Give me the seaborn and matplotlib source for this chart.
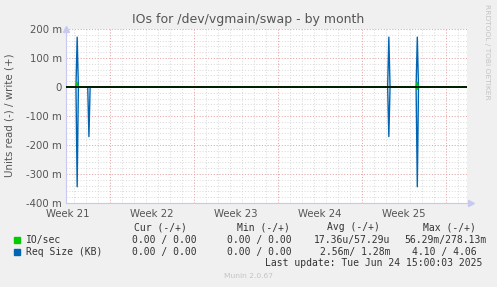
import matplotlib
matplotlib.use("Agg")
import matplotlib.pyplot as plt
import seaborn as sns
import pandas as pd
import numpy as np

# ---------------- data (x in days since Monday of Week 21) ----------------
week_labels = ["Week 21", "Week 22", "Week 23", "Week 24", "Week 25"]
week_starts = [0, 7, 14, 21, 28, 35]
x_range = [3.35, 36.75]

# Req Size (KB) samples
req_t     = [3.35, 4.18, 4.28, 4.38, 5.16, 5.26, 5.36, 30.14, 30.24, 30.34, 32.51, 32.61, 32.71, 36.75]
req_write = [0, 0, 0.172, 0, 0, 0, 0, 0, 0.172, 0, 0, 0.172, 0, 0]
req_read  = [0, 0, 0.344, 0, 0, 0.171, 0, 0, 0.171, 0, 0, 0.344, 0, 0]

# IO/sec samples
io_t     = [3.35, 4.18, 4.28, 4.38, 32.51, 32.61, 32.71, 36.75]
io_write = [0, 0, 0.016, 0, 0, 0.016, 0, 0]
io_read  = [0, 0, 0, 0, 0, 0.008, 0, 0]

y_ticks = [-0.4, -0.3, -0.2, -0.1, 0.0, 0.1, 0.2]
y_tick_labels = ["-400 m", "-300 m", "-200 m", "-100 m", "0", "100 m", "200 m"]

title = "IOs for /dev/vgmain/swap - by month"
ylabel = "Units read (-) / write (+)"
series_names = ["IO/sec", "Req Size (KB)"]
series_colors = ["#00CC00", "#0066B3"]
col_headers = ["Cur (-/+)", "Min (-/+)", "Avg (-/+)", "Max (-/+)"]
rows = [
    ["0.00 / 0.00", "0.00 / 0.00", "17.36u/57.29u", "56.29m/278.13m"],
    ["0.00 / 0.00", "0.00 / 0.00", "2.56m/ 1.28m", "4.10 / 4.06"],
]
last_update = "Last update: Tue Jun 24 15:00:03 2025"
version = "Munin 2.0.67"
side_text = "RRDTOOL / TOBI OETIKER"

# ---------------- figure ----------------
W, H = 497, 287
fig = plt.figure(figsize=(W / 100, H / 100), dpi=100, facecolor="#F0F0F0")
ax = fig.add_axes([66 / W, 1 - 203 / H, (467 - 66) / W, (203 - 29) / H])
ax.set_facecolor("white")

ax.set_xlim(*x_range)
ax.set_ylim(-0.4, 0.2)

# grids
minor_y = np.round(np.arange(-0.4, 0.2001, 0.02), 3)
ax.set_yticks(y_ticks)
ax.set_yticklabels(y_tick_labels)
days = np.arange(4, 37)
mid = [s + 3.5 for s in week_starts[:-1]]
ax.set_xticks(mid)
ax.set_xticklabels(week_labels)

ax.grid(False)
dot = (0, (1.2, 2.2))
for d in days:
    ax.axvline(d, color="#d4d4d4", lw=0.6, ls=dot, zorder=0.5)
for yv in minor_y:
    ax.axhline(yv, color="#d4d4d4", lw=0.6, ls=dot, zorder=0.5)
for s in week_starts:
    if x_range[0] < s < x_range[1]:
        ax.axvline(s, color="#eea0a0", lw=0.6, ls=dot, zorder=0.6)
for yv in y_ticks:
    ax.axhline(yv, color="#eea0a0", lw=0.6, ls=dot, zorder=0.6)

# data lines
df_req = pd.DataFrame({"t": req_t, "w": req_write, "r": [-v for v in req_read]})
df_io = pd.DataFrame({"t": io_t, "w": io_write, "r": [-v for v in io_read]})
sns.lineplot(data=df_req, x="t", y="w", ax=ax, color=series_colors[1], lw=1.0, zorder=3)
sns.lineplot(data=df_req, x="t", y="r", ax=ax, color=series_colors[1], lw=1.0, zorder=3)
sns.lineplot(data=df_io, x="t", y="w", ax=ax, color=series_colors[0], lw=1.0, zorder=4)
sns.lineplot(data=df_io, x="t", y="r", ax=ax, color=series_colors[0], lw=1.0, zorder=4)
ax.axhline(0, color="black", lw=1.2, zorder=10)
ax.set_xlabel("")
ax.set_ylabel("")

# spines / ticks
for sp in ["top", "right"]:
    ax.spines[sp].set_visible(False)
for sp in ["left", "bottom"]:
    ax.spines[sp].set_color("#c8c8f0")
    ax.spines[sp].set_linewidth(0.8)
ax.tick_params(axis="both", which="major", length=0, labelsize=7.3, colors="#555555", pad=3)
ax.tick_params(axis="x", pad=4)
ax.plot(0, 1.0, marker="^", color="#c8c8f0", ms=4, transform=ax.transAxes, clip_on=False)
ax.plot(1.01, 0, marker=">", color="#c8c8f0", ms=4, transform=ax.transAxes, clip_on=False)

# texts
def fx(px):
    return px / W

def fy(py):
    return 1 - py / H

fig.text(fx(248), fy(20), title, ha="center", va="center", fontsize=9.0, color="#555555")
fig.text(fx(10), fy(115), ylabel, ha="center", va="center", rotation=90, fontsize=7.4, color="#555555")
fig.text(fx(487), fy(52), side_text, ha="center", va="center", rotation=270, fontsize=5.4, color="#c4c4c4")

mono = "DejaVu Sans Mono"
fs = 7.0
col_right = [197, 292, 390, 477]
for cx, hdr in zip([187, 290, 380, 476], col_headers):
    fig.text(fx(cx), fy(227), hdr, ha="right", va="center", family=mono, fontsize=fs, color="#333333")
row_y = [240, 252]
for i, (name, colr) in enumerate(zip(series_names, series_colors)):
    fig.patches.append(plt.Rectangle((fx(14), fy(row_y[i] + 3)), 6 / W, 6 / H,
                                     transform=fig.transFigure, color=colr))
    fig.text(fx(26), fy(row_y[i]), name, ha="left", va="center", family=mono, fontsize=fs, color="#333333")
    for j, val in enumerate(rows[i]):
        if i == 0 and j == 3:
            fig.text(fx(404), fy(row_y[i]), val, ha="left", va="center", family=mono, fontsize=fs, color="#333333")
        else:
            fig.text(fx(col_right[j]), fy(row_y[i]), val, ha="right", va="center", family=mono, fontsize=fs, color="#333333")
fig.text(fx(482), fy(263), last_update, ha="right", va="center", family=mono, fontsize=fs, color="#333333")
fig.text(fx(249), fy(276), version, ha="center", va="center", fontsize=5.4, color="#c4c4c4")

fig.savefig("out.png", dpi=100, facecolor=fig.get_facecolor())
